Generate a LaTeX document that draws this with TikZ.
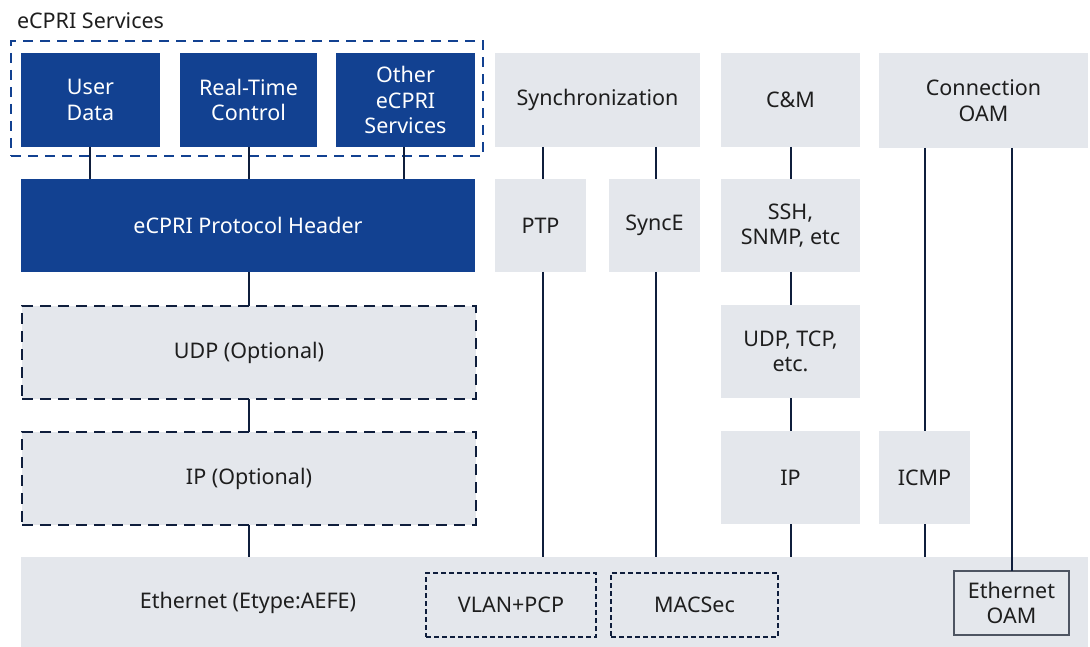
\documentclass[tikz,border=0pt]{standalone}
\usepackage{fontspec}
\setmainfont{Noto Sans}
\definecolor{nblue}{HTML}{124191}
\definecolor{lgray}{HTML}{E4E7EC}
\definecolor{navy}{HTML}{0F1E3C}
\definecolor{txt}{HTML}{1E1E1E}
\definecolor{oamgray}{HTML}{4E5562}
\begin{document}
\begin{tikzpicture}[x=1pt,y=-1pt,
  every node/.style={inner sep=0pt,outer sep=0pt,align=center,font=\fontsize{21.5}{25.5}\selectfont},
  bluebox/.style={fill=nblue,text=white,anchor=north west},
  graybox/.style={fill=lgray,text=txt,anchor=north west},
  optbox/.style={fill=lgray,text=txt,anchor=north west,draw=navy,line width=2pt,dash pattern=on 11pt off 7pt},
  smalldash/.style={draw=navy,line width=1.6pt,dash pattern=on 5pt off 3pt,text=txt,anchor=north west},
  link/.style={draw=navy,line width=2pt}]
\useasboundingbox (0,0) rectangle (1090,647);
% title
\node[anchor=base west,text=txt] (title) at (17,29) {eCPRI Services};
% service group dashed frame
\node[draw=nblue,line width=2pt,dash pattern=on 10pt off 7pt,minimum width=472pt,minimum height=115pt,anchor=north west] (grp) at (11,41) {};
\node[bluebox,minimum width=139pt,minimum height=94pt] (ud) at (21,53) {User\\Data};
\node[bluebox,minimum width=137pt,minimum height=94pt] (rtc) at (180,53) {Real-Time\\Control};
\node[bluebox,minimum width=139pt,minimum height=94pt] (oth) at (336,53) {Other\\eCPRI\\Services};
\node[bluebox,minimum width=454pt,minimum height=93pt] (hdr) at (21,179) {eCPRI Protocol Header};
\node[optbox,minimum width=454pt,minimum height=93pt] (udp) at (22,306) {UDP (Optional)};
\node[optbox,minimum width=454pt,minimum height=93pt] (ip) at (22,432) {IP (Optional)};
% right columns
\node[graybox,minimum width=205pt,minimum height=94pt] (sync) at (495,53) {Synchronization};
\node[graybox,minimum width=91pt,minimum height=93pt] (ptp) at (495,179) {PTP};
\node[graybox,minimum width=91pt,minimum height=93pt] (synce) at (609,179) {SyncE};
\node[graybox,minimum width=139pt,minimum height=94pt] (cm) at (721,53) {C\&M};
\node[graybox,minimum width=139pt,minimum height=93pt] (ssh) at (721,179) {SSH,\\SNMP, etc};
\node[graybox,minimum width=139pt,minimum height=93pt] (tcp) at (721,305) {UDP, TCP,\\etc.};
\node[graybox,minimum width=139pt,minimum height=93pt] (ipr) at (721,431) {IP};
\node[graybox,minimum width=209pt,minimum height=95pt] (coam) at (879,53) {Connection\\OAM};
\node[graybox,minimum width=91pt,minimum height=93pt] (icmp) at (879,431) {ICMP};
% ethernet bar
\node[graybox,minimum width=1067pt,minimum height=90pt] (eth) at (21,557) {};
\node[text=txt] (ethl) at (248,603) {Ethernet (Etype:AEFE)};
\node[smalldash,minimum width=170pt,minimum height=64pt] (vlan) at (426,573) {VLAN+PCP};
\node[smalldash,minimum width=167pt,minimum height=64pt] (mac) at (611,573) {MACSec};
\node[draw=oamgray,line width=1.6pt,text=txt,anchor=north west,minimum width=115pt,minimum height=64pt] (eoam) at (954,571) {Ethernet\\OAM};
% connectors
\draw[link] (ud.south -| 90,0) -- (hdr.north -| 90,0);
\draw[link] (rtc.south) -- (hdr.north -| rtc.south);
\draw[link] (oth.south -| 404,0) -- (hdr.north -| 404,0);
\draw[link] (hdr.south -| udp.north) -- (udp.north);
\draw[link] (udp.south) -- (ip.north);
\draw[link] (ip.south) -- (eth.north -| ip.south);
\draw[link] (sync.south -| 543,0) -- (ptp.north -| 543,0);
\draw[link] (ptp.south -| 543,0) -- (eth.north -| 543,0);
\draw[link] (sync.south -| 656,0) -- (synce.north -| 656,0);
\draw[link] (synce.south -| 656,0) -- (eth.north -| 656,0);
\draw[link] (cm.south) -- (ssh.north);
\draw[link] (ssh.south) -- (tcp.north);
\draw[link] (tcp.south) -- (ipr.north);
\draw[link] (ipr.south) -- (eth.north -| ipr.south);
\draw[link] (icmp.north |- coam.south) -- (icmp.north);
\draw[link] (icmp.south) -- (eth.north -| icmp.south);
\draw[link] (eoam.north |- coam.south) -- (eoam.north);
\end{tikzpicture}
\end{document}
